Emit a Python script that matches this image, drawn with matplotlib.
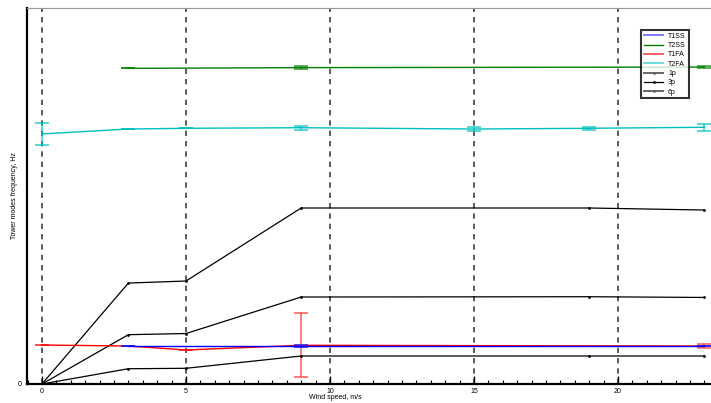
import matplotlib
matplotlib.use('Agg')
import matplotlib.pyplot as plt
from matplotlib.lines import Line2D
from matplotlib.ticker import MultipleLocator

plt.rcParams['font.family'] = ['Liberation Sans', 'DejaVu Sans']

# rotor harmonics (Hz) vs wind speed
ws_rotor = [0, 3, 5, 9, 19, 23]
p1 = [0, 0.105, 0.108, 0.1925, 0.1925, 0.1925]
p3 = [0, 0.339, 0.347, 0.598, 0.600, 0.595]
p6 = [0, 0.694, 0.708, 1.210, 1.210, 1.196]

# tower modes (Hz) with error bars
ws_t1ss = [3, 9, 23]
t1ss = [0.261, 0.261, 0.261]
t1ss_err = [0, 0.01, 0]

ws_t2ss = [3, 9, 23]
t2ss = [2.170, 2.175, 2.179]
t2ss_err = [0, 0.012, 0.005]

ws_t1fa = [0, 3, 5, 9, 23]
t1fa = [0.268, 0.261, 0.234, 0.266, 0.261]
t1fa_err = [0, 0, 0, 0.22, 0.014]

ws_t2fa = [0, 3, 5, 9, 15, 19, 23]
t2fa = [1.719, 1.753, 1.758, 1.762, 1.753, 1.758, 1.765]
t2fa_err = [0.073, 0, 0, 0.014, 0.017, 0.012, 0.023]

fig = plt.figure(figsize=(7.11, 4.03), dpi=100)
ax = fig.add_axes([27/711, 1-384/403, 1-27/711, 376/403])

# tower modes
cap = 4.7
ax.errorbar(ws_t1fa, t1fa, yerr=t1fa_err, color='#ff0000', lw=1.0,
            ecolor=(1, 0.2, 0.2, 0.7), elinewidth=1.3, capsize=cap, capthick=1.3, zorder=3)
ax.errorbar(ws_t1ss, t1ss, yerr=t1ss_err, color='#0000ff', lw=1.0,
            ecolor=(0.1, 0.1, 1, 0.8), elinewidth=1.2, capsize=cap, capthick=1.3, zorder=4)
ax.errorbar(ws_t2ss, t2ss, yerr=t2ss_err, color='#008000', lw=1.0,
            ecolor=(0, 0.5, 0, 0.7), elinewidth=1.2, capsize=cap, capthick=1.3, zorder=3)
ax.errorbar(ws_t2fa, t2fa, yerr=t2fa_err, color='#00bfbf', lw=1.0,
            ecolor=(0, 0.75, 0.75, 0.7), elinewidth=1.2, capsize=cap, capthick=1.3, zorder=3)

# rotor harmonics
for y in (p1, p3, p6):
    ax.plot(ws_rotor, y, color='k', lw=0.9, marker='.', ms=2, zorder=3)

ax.set_xlim(-0.52, 23.23)
ax.set_ylim(0, 2.585)
ax.xaxis.set_major_locator(MultipleLocator(5))
ax.xaxis.set_minor_locator(MultipleLocator(0.5))
ax.set_yticks([0])
ax.tick_params(axis='both', which='both', direction='in', labelsize=5,
               top=False, right=False, pad=3)
ax.tick_params(axis='x', which='major', length=6, width=1)
ax.tick_params(axis='x', which='minor', length=3, width=0.8)
ax.tick_params(axis='y', which='major', length=0, pad=4)

ax.grid(axis='x', which='major', color='#404040', lw=1.2, ls=(0, (3.2, 3.0)))
ax.set_axisbelow(True)

ax.spines['left'].set_linewidth(1.6)
ax.spines['bottom'].set_linewidth(1.6)
ax.spines['top'].set_linewidth(0.8)
ax.spines['top'].set_color('#999999')
ax.spines['right'].set_visible(False)

ax.set_xlabel('Wind speed, m/s', fontsize=5)
ax.xaxis.set_label_coords((335 - 27) / 684, (384 - 394) / 376)
ax.set_ylabel('Tower modes frequency, Hz', fontsize=5)
ax.yaxis.set_label_coords((18 - 27) / 684, 0.5)

handles = [
    Line2D([], [], color='#7070ff', lw=1.3),
    Line2D([], [], color='#008000', lw=1.0),
    Line2D([], [], color='#ff5050', lw=1.3),
    Line2D([], [], color='#60d8d8', lw=1.3),
    Line2D([], [], color='#666666', lw=1.4, marker='.', ms=2),
    Line2D([], [], color='k', lw=0.9, marker='.', ms=2),
    Line2D([], [], color='#666666', lw=1.4, marker='.', ms=2),
]
labels = ['T1SS', 'T2SS', 'T1FA', 'T2FA', '1p', '3p', '6p']
leg = ax.legend(handles, labels, loc='upper left', bbox_to_anchor=(614/684, 1-22/376),
                fontsize=5, frameon=True, fancybox=False, handlelength=2.8,
                handletextpad=0.7, labelspacing=0.33, borderpad=0.4, borderaxespad=0)
leg.get_frame().set_edgecolor('k')
leg.get_frame().set_linewidth(1.5)

fig.savefig('out.png', dpi=100)
